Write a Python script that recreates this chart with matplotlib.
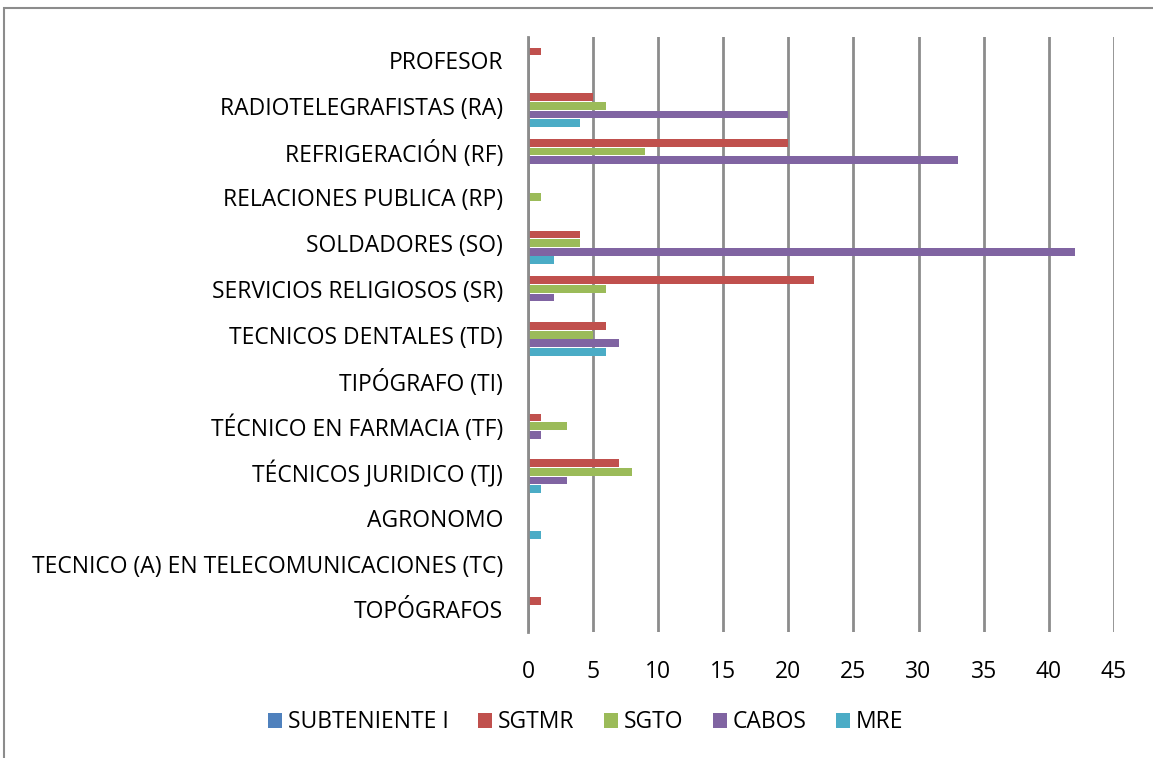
import numpy as np
import matplotlib.pyplot as plt
from matplotlib.patches import Rectangle

plt.rcParams['font.family'] = ['Open Sans', 'DejaVu Sans']

categories = ['PROFESOR', 'RADIOTELEGRAFISTAS (RA)', 'REFRIGERACIÓN (RF)',
              'RELACIONES PUBLICA (RP)', 'SOLDADORES (SO)', 'SERVICIOS RELIGIOSOS (SR)',
              'TECNICOS DENTALES (TD)', 'TIPÓGRAFO (TI)', 'TÉCNICO EN FARMACIA (TF)',
              'TÉCNICOS JURIDICO (TJ)', 'AGRONOMO', 'TECNICO (A) EN TELECOMUNICACIONES (TC)',
              'TOPÓGRAFOS']
series = ['SUBTENIENTE I', 'SGTMR', 'SGTO', 'CABOS', 'MRE']
subteniente = [0, 0, 0, 0, 0, 0, 0, 0, 0, 0, 0, 0, 0]
sgtmr = [1, 5, 20, 0, 4, 22, 6, 0, 1, 7, 0, 0, 1]
sgto = [0, 6, 9, 1, 4, 6, 5, 0, 3, 8, 0, 0, 0]
cabos = [0, 20, 33, 0, 42, 2, 7, 0, 1, 3, 0, 0, 0]
mre = [0, 4, 0, 0, 2, 0, 6, 0, 0, 1, 1, 0, 0]
colors = ['#4F81BD', '#C0504D', '#9BBB59', '#8064A2', '#4BACC6']

fig = plt.figure(figsize=(11.53, 7.58), dpi=100)
ax = fig.add_axes([0.458, 0.166, 0.508, 0.785])

# outer chart frame (only top and left visible in the reference)
fig.patches.append(Rectangle((0.0035, -0.01), 1.2, 0.999, transform=fig.transFigure,
                             fill=False, edgecolor='#8c8c8c', linewidth=1.5))

y = np.arange(len(categories))
slot = 0.188
for i, (vals, name) in enumerate(zip([subteniente, sgtmr, sgto, cabos, mre], series)):
    ax.barh(y + (i - 2) * slot, vals, height=0.17, color=colors[i], label=name)

ax.set_ylim(12.5, -0.5)
ax.set_xlim(0, 45)
ax.set_xticks(range(0, 50, 5))
ax.set_yticks(y)
ax.set_yticklabels(categories)
ax.tick_params(axis='both', length=0, labelsize=16.5, colors='black')
ax.tick_params(axis='y', pad=18)
ax.tick_params(axis='x', pad=20)
ax.xaxis.grid(True, color='#8c8c8c', linewidth=2)
ax.set_axisbelow(True)
for s in ['top', 'right', 'bottom']:
    ax.spines[s].set_visible(False)
ax.spines['left'].set_color('#8c8c8c')
ax.spines['left'].set_linewidth(2)

fig.legend(loc='center', bbox_to_anchor=(0.508, 0.047), ncol=5, frameon=False,
           fontsize=16.5, handlelength=0.6, handleheight=0.6, handletextpad=0.25,
           columnspacing=1.3)

plt.savefig('out.png', dpi=100)
